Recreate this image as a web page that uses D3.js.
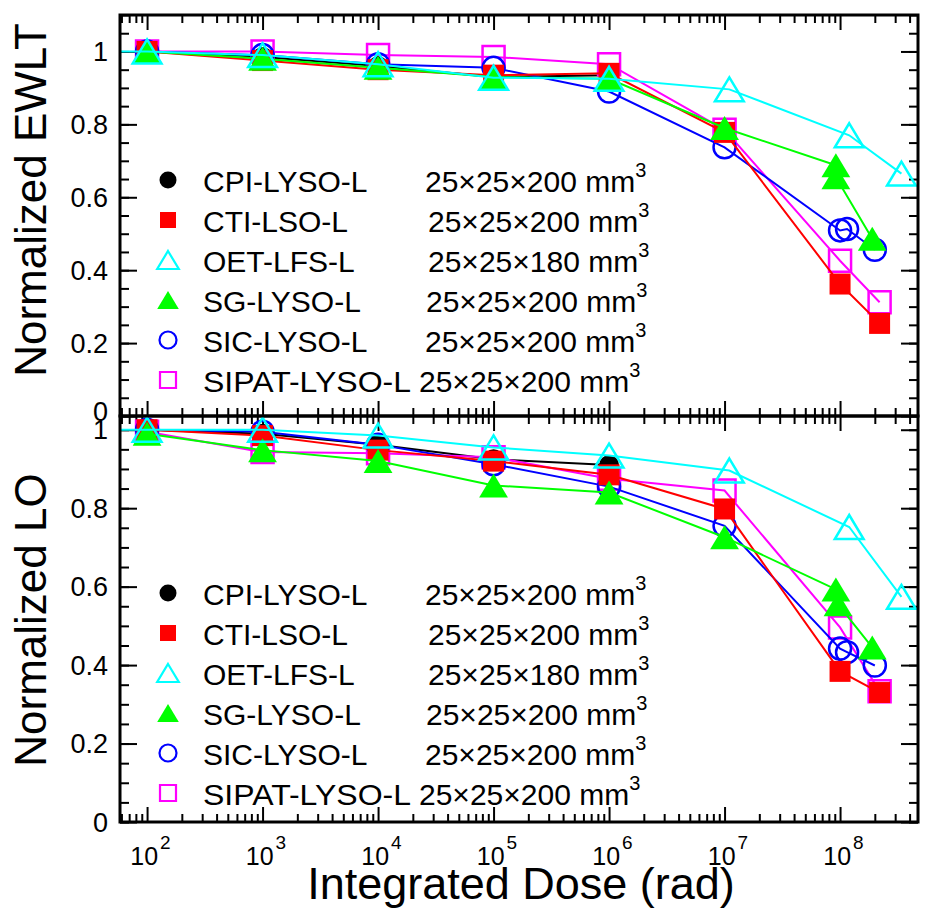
<!DOCTYPE html>
<html><head><meta charset="utf-8">
<script src="https://cdn.jsdelivr.net/npm/d3@7"></script>
<style>
html,body{margin:0;padding:0;background:#fff;}
svg{display:block;font-family:"Liberation Sans",Arial,sans-serif;}
</style></head>
<body><svg id="chart" width="929" height="910"></svg>
<script>
// ---------- data ----------
const seriesNames  = ["CPI-LYSO-L","CTI-LSO-L","OET-LFS-L","SG-LYSO-L","SIC-LYSO-L","SIPAT-LYSO-L"];
const seriesDims   = ["25×25×200 mm","25×25×200 mm","25×25×180 mm","25×25×200 mm","25×25×200 mm","25×25×200 mm"];
const seriesColors = ["#000000","#ff0000","#00ffff","#00ff00","#0000ff","#ff00ff"];
const seriesShapes = ["circleFilled","squareFilled","triangleOpen","triangleFilled","circleOpen","squareOpen"];

const decadeExponents = [2,3,4,5,6,7,8];
const yTickLabels = ["0","0.2","0.4","0.6","0.8","1"];

// integrated dose (rad)
const doseCPI   = [1e2,1e3,1e4,1e5,1e6];
const doseCTI   = [1e2,1e3,1e4,1e5,1e6,1e7,1e8,2.2e8];
const doseOET   = [10,1e2,1e3,1e4,1e5,1e6,1.1e7,1.2e8,3.4e8];
const doseSG    = [1e2,1e3,1e4,1e5,1e6,1e7,9.2e7,9.2e7,1.9e8];
const doseSGlo  = [1e2,1e3,1e4,1e5,1e6,1e7,9.2e7,9.6e7,1.9e8];
const doseSIC   = [1e2,1e3,1e4,1e5,1e6,1e7,1e8,1.15e8,2e8];
const doseSIPAT = [1e2,1e3,1e4,1e5,1e6,1e7,1e8,2.2e8];

// normalized EWLT (top panel)
const ewltCPI   = [1.0,0.985,0.96,0.93,0.935];
const ewltCTI   = [1.0,0.975,0.95,0.935,0.94,0.778,0.362,0.254];
const ewltOET   = [1.0,1.0,0.99,0.965,0.928,0.925,0.896,0.77,0.665];
const ewltSG    = [1.0,0.98,0.955,0.93,0.925,0.79,0.688,0.655,0.486];
const ewltSIC   = [1.0,0.99,0.965,0.955,0.89,0.737,0.509,0.513,0.456];
const ewltSIPAT = [1.0,1.0,0.99,0.985,0.965,0.785,0.426,0.312];

// normalized LO (bottom panel)
const loCPI   = [1.0,0.99,0.962,0.925,0.91];
const loCTI   = [1.0,0.985,0.948,0.92,0.885,0.798,0.384,0.33];
const loOET   = [1.0,1.0,1.0,0.985,0.955,0.934,0.896,0.752,0.574];
const loSG    = [0.99,0.948,0.92,0.858,0.84,0.726,0.593,0.555,0.445];
const loSIC   = [1.0,0.995,0.962,0.912,0.855,0.755,0.442,0.433,0.399];
const loSIPAT = [0.995,0.943,0.94,0.93,0.875,0.845,0.496,0.333];

const topDoses = [doseCPI,doseCTI,doseOET,doseSG,doseSIC,doseSIPAT];
const topVals  = [ewltCPI,ewltCTI,ewltOET,ewltSG,ewltSIC,ewltSIPAT];
const botDoses = [doseCPI,doseCTI,doseOET,doseSGlo,doseSIC,doseSIPAT];
const botVals  = [loCPI,loCTI,loOET,loSG,loSIC,loSIPAT];

// ---------- layout ----------
const svg = d3.select("#chart");
const L = 120, R = 918;
const x = d3.scaleLog().domain([58.3, 4.73e8]).range([L, R]);

const panels = [
  {top:15, bottom:416, ymax:1.1, title:"Normalized EWLT", doses:topDoses, vals:topVals, legendY:180, titleY:200, xlabels:false},
  {top:416, bottom:822, ymax:1.035, title:"Normalized LO", doses:botDoses, vals:botVals, legendY:593, titleY:620, xlabels:true}
];

const drawOrder = [0,5,4,1,3,2];

function shapePath(shape, s) {
  if (shape.startsWith("circle")) {
    const r = s/2;
    return `M${-r},0A${r},${r} 0 1,0 ${r},0A${r},${r} 0 1,0 ${-r},0Z`;
  }
  if (shape.startsWith("square")) {
    const h = s/2;
    return `M${-h},${-h}H${h}V${h}H${-h}Z`;
  }
  const w = s*1.2/2, h = s/2;
  return `M0,${-h}L${w},${h}L${-w},${h}Z`;
}
function markerStyle(sel, i) {
  const shape = seriesShapes[i], c = seriesColors[i];
  const filled = shape.endsWith("Filled");
  sel.attr("fill", filled ? c : "none")
     .attr("stroke", filled ? "none" : c)
     .attr("stroke-width", filled ? 0 : 2.5);
}
const markerSize = [20,21,24,24,22,22];
const legendMarkerSize = [17,16,18,18,17,16];

const minorX = [];
for (let k = 1; k <= 8; k++) for (let m = 2; m <= 9; m++) {
  const v = m*Math.pow(10,k);
  if (v > x.domain()[0] && v < x.domain()[1]) minorX.push(v);
}
const majorX = decadeExponents.map(e => Math.pow(10,e));

panels.forEach((p, pi) => {
  const y = d3.scaleLinear().domain([0, p.ymax]).range([p.bottom, p.top]);
  const g = svg.append("g");
  const clipId = "clip" + pi;
  svg.append("defs").append("clipPath").attr("id", clipId)
    .append("rect").attr("x", L).attr("y", p.top).attr("width", R-L).attr("height", p.bottom-p.top);

  const majorY = d3.range(0, 1.0001, 0.2);
  const minorY = d3.range(0, p.ymax+1e-9, 0.05);
  const axG = g.append("g").attr("class","axes");
  const mk = (axis, tx, ty) => axG.append("g").attr("transform",`translate(${tx},${ty})`).call(axis);
  mk(d3.axisBottom(x).tickValues(majorX).tickSize(-15).tickFormat(""), 0, p.bottom);
  mk(d3.axisBottom(x).tickValues(minorX).tickSize(-8).tickFormat(""), 0, p.bottom);
  mk(d3.axisTop(x).tickValues(majorX).tickSize(-15).tickFormat(""), 0, p.top);
  mk(d3.axisTop(x).tickValues(minorX).tickSize(-8).tickFormat(""), 0, p.top);
  mk(d3.axisLeft(y).tickValues(majorY).tickSize(-17).tickFormat(""), L, 0);
  mk(d3.axisLeft(y).tickValues(minorY).tickSize(-9).tickFormat(""), L, 0);
  mk(d3.axisRight(y).tickValues(majorY).tickSize(-17).tickFormat(""), R, 0);
  mk(d3.axisRight(y).tickValues(minorY).tickSize(-9).tickFormat(""), R, 0);
  axG.selectAll(".domain").remove();
  axG.selectAll(".tick line").attr("stroke","#000").attr("stroke-width",2);

  g.append("g").selectAll("text").data(majorY).join("text")
    .attr("x", 108).attr("y", d => y(d) - (pi === 0 && d === 0 ? 5 : 0)).attr("dy","0.36em")
    .attr("text-anchor","end").attr("font-size",27).attr("fill","#000")
    .text((d,i) => yTickLabels[i]);

  g.append("text")
    .attr("transform", `translate(46,${p.titleY}) rotate(-90)`)
    .attr("text-anchor","middle").attr("font-size",44).attr("fill","#000")
    .text(p.title);

  const dg = g.append("g").attr("clip-path", `url(#${clipId})`);
  const line = d3.line().x(d => x(d[0])).y(d => y(d[1]));
  drawOrder.forEach(i => {
    const pts = p.doses[i].map((d, j) => [d, p.vals[i][j]]);
    const sg = dg.append("g");
    sg.append("path").attr("d", line(pts)).attr("fill","none")
      .attr("stroke", seriesColors[i]).attr("stroke-width", 2);
    sg.selectAll("path.m").data(pts).join("path").attr("class","m")
      .attr("transform", d => `translate(${x(d[0])},${y(d[1])})`)
      .attr("d", shapePath(seriesShapes[i], markerSize[i]))
      .call(markerStyle, i);
  });

  g.append("rect").attr("x", L).attr("y", p.top).attr("width", R-L).attr("height", p.bottom-p.top)
    .attr("fill","none").attr("stroke","#000").attr("stroke-width",3);

  // legend
  const lg = g.append("g");
  const dimsX = [425, 428, 428, 426, 425, 419];
  seriesNames.forEach((nm, i) => {
    const ly = p.legendY + i*40;
    lg.append("path").attr("transform", `translate(168,${ly})`)
      .attr("d", shapePath(seriesShapes[i], legendMarkerSize[i])).call(markerStyle, i)
      .attr("stroke-width", seriesShapes[i].endsWith("Filled") ? 0 : 2.2);
    const nt = lg.append("text").attr("x", 203).attr("y", ly + 12).attr("font-size", 30).attr("fill","#000").text(nm);
    if (i === 5) nt.attr("textLength", 208).attr("lengthAdjust","spacingAndGlyphs");
    const t = lg.append("text").attr("x", dimsX[i]).attr("y", ly + 12).attr("font-size", 30).attr("fill","#000");
    t.append("tspan").text(seriesDims[i]);
    t.append("tspan").attr("dy",-15).attr("font-size",20).text("3");
  });

  if (p.xlabels) {
    const xl = svg.append("g");
    decadeExponents.forEach(e => {
      const xv = x(Math.pow(10,e));
      xl.append("text").attr("x", xv + 11).attr("y", 865).attr("text-anchor","end")
        .attr("font-size", 25).attr("fill","#000").text("10");
      xl.append("text").attr("x", xv + 13).attr("y", 849)
        .attr("font-size", 19).attr("fill","#000").text(String(e));
    });
    xl.append("text").attr("x", 521).attr("y", 899).attr("text-anchor","middle")
      .attr("font-size", 45).attr("fill","#000").text("Integrated Dose (rad)");
  }
});
</script></body></html>
